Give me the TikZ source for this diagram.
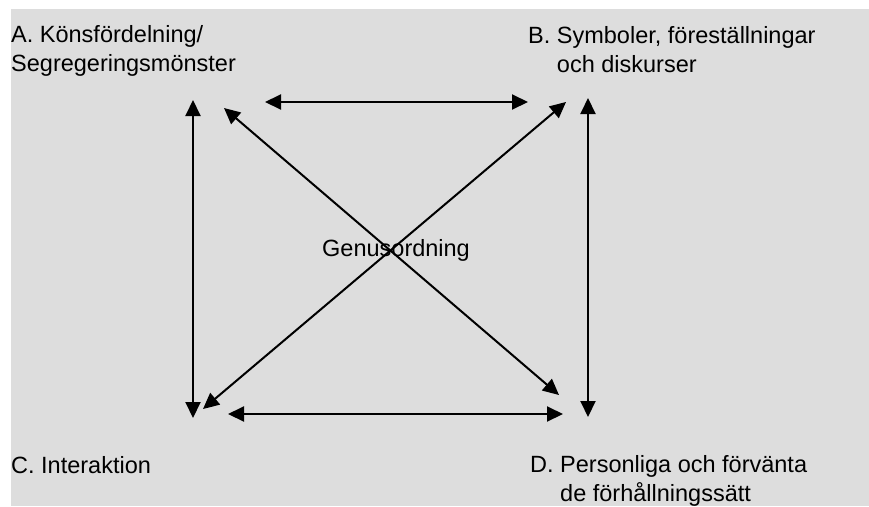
\documentclass[tikz,border=0pt]{standalone}
\usepackage{fontspec}
\setmainfont{Liberation Sans}
\usetikzlibrary{arrows.meta,%
                positioning}

\begin{document}
\begin{tikzpicture}[x=1pt,y=-1pt,
  lbl/.style={anchor=base west,inner sep=0pt,align=left,
    font=\fontsize{23.5}{29}\selectfont},
  link/.style={line width=2pt,{Triangle[length=16pt,width=15pt]}-{Triangle[length=16pt,width=15pt]}}]
\useasboundingbox (0,0) rectangle (869,506);
\fill[gray!27!white] (11,9) rectangle (869,506);

% multi-line labels sit on their last baseline
\node[lbl] (A) at (11,71) {A. Könsfördelning/\\Segregeringsmönster};
\node[lbl] (B) at (528,72) {B. Symboler, föreställningar\\\phantom{B. }och diskurser};
\node[lbl] (C) at (11,473) {C. Interaktion};
\node[lbl] (D) at (530,501) {D. Personliga och förvänta\\\phantom{D. }de förhållningssätt};
\node[lbl] (G) at (322,256) {Genusordning};

\coordinate (AV) at (193,100);
\coordinate (CV) at (193,418);
\coordinate (BV) at (588,98);
\coordinate (DV) at (588,417);

\coordinate (AH) at (265,102);
\coordinate (BH) at (528,102);
\coordinate (CH) at (228,414);
\coordinate (DH) at (563,414);

\coordinate (AX) at (224,108);
\coordinate (DX) at (559,395);
\coordinate (BX) at (566,102);
\coordinate (CX) at (203,409);

\draw[link] (AV) -- (CV);
\draw[link] (BV) -- (DV);
\draw[link] (AH) -- (BH);
\draw[link] (CH) -- (DH);
\draw[link] (AX) -- (DX);
\draw[link] (BX) -- (CX);

\end{tikzpicture}
\end{document}
